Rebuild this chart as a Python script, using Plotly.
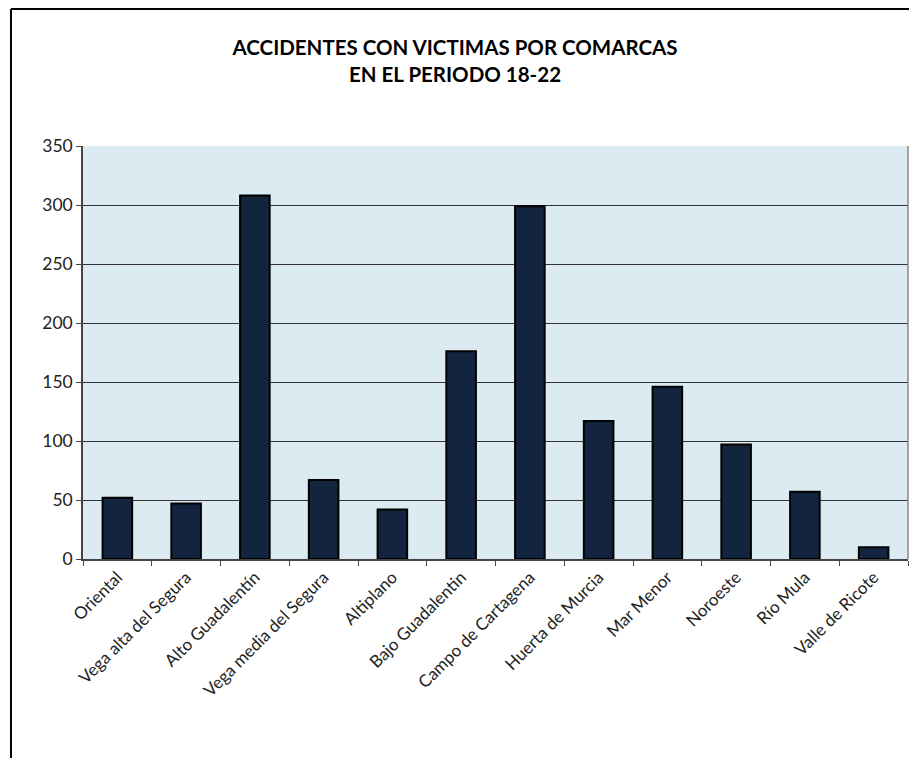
import plotly.graph_objects as go

comarcas = ["Oriental", "Vega alta del Segura", "Alto Guadalentín", "Vega media del Segura",
            "Altiplano", "Bajo Guadalentin", "Campo de Cartagena", "Huerta de Murcia",
            "Mar Menor", "Noroeste", "Río Mula", "Valle de Ricote"]
accidentes = [52, 47, 308, 67, 42, 176, 299, 117, 146, 97, 57, 10]
y_ticks = [0, 50, 100, 150, 200, 250, 300, 350]

FONT = "Lato, 'Open Sans', sans-serif"

fig = go.Figure(go.Bar(
    x=comarcas, y=accidentes,
    marker=dict(color="#13243F", line=dict(color="#000000", width=2)),
    width=0.43,
))

fig.update_layout(
    width=917, height=758,
    margin=dict(l=75, r=17, t=138, b=207, autoexpand=False),
    paper_bgcolor="white", plot_bgcolor="#DCEBF2",
    showlegend=False,
    title=dict(text="<b>ACCIDENTES CON VICTIMAS POR COMARCAS<br>EN EL PERIODO 18-22</b>",
               x=0.4875, xanchor="center", y=0.938, yanchor="middle",
               font=dict(family=FONT, size=20.5, color="#000000")),
    font=dict(family=FONT, color="#222222"),
)
fig.update_yaxes(range=[0, 350], tickvals=y_ticks, showgrid=True, gridcolor="#333333", gridwidth=1.4,
                 showline=True, linecolor="#444444", linewidth=1.5, mirror=False, automargin=False,
                 ticks="outside", ticklen=5, tickcolor="#444444",
                 tickfont=dict(size=17.5, family=FONT, color="#222222"), zeroline=False)
fig.update_xaxes(tickangle=-45, showline=True, linecolor="#444444", linewidth=1.5, automargin=False,
                 ticks="outside", tickson="boundaries", ticklen=5, tickcolor="#444444",
                 tickfont=dict(size=17, family=FONT, color="#222222"), showgrid=False)

# right edge of plot area and outer frame
fig.add_shape(type="line", xref="paper", yref="paper", x0=1, x1=1, y0=0, y1=1,
              line=dict(color="#888888", width=1.5))
fig.add_shape(type="line", xref="paper", yref="paper", x0=-0.0873, x1=1.05, y0=1.3317, y1=1.3317,
              line=dict(color="#000000", width=2))
fig.add_shape(type="line", xref="paper", yref="paper", x0=-0.0873, x1=-0.0873, y0=1.3317, y1=-0.6,
              line=dict(color="#000000", width=2))

fig.write_html("out.html")
